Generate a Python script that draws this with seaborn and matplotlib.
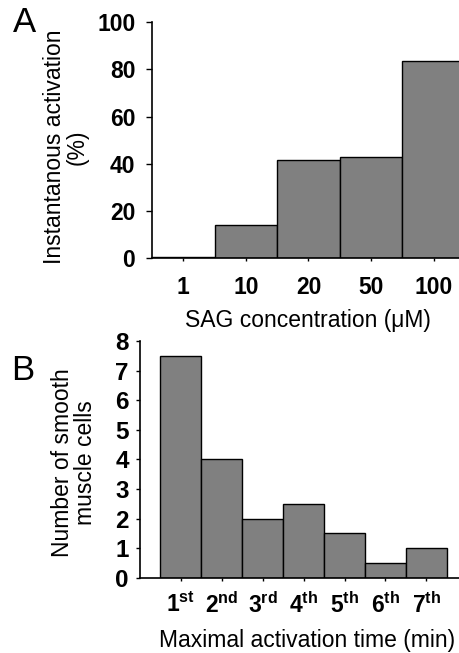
import matplotlib
matplotlib.use("Agg")
import matplotlib.pyplot as plt
import seaborn as sns
import pandas as pd

# ---- data ----
sag_conc = ["1", "10", "20", "50", "100"]
activation = [0.7, 14.2, 41.8, 42.9, 83.6]
a_yticks = [0, 20, 40, 60, 80, 100]

time_ordinals = [("1", "st"), ("2", "nd"), ("3", "rd"), ("4", "th"),
                 ("5", "th"), ("6", "th"), ("7", "th")]
cell_counts = [7.5, 4, 2, 2.5, 1.5, 0.5, 1]
b_yticks = [0, 1, 2, 3, 4, 5, 6, 7, 8]

sns.set_style("ticks")
plt.rcParams['font.family'] = ['Liberation Sans', 'DejaVu Sans']
plt.rcParams['mathtext.fontset'] = 'custom'
plt.rcParams['mathtext.rm'] = 'Liberation Sans'
plt.rcParams['mathtext.bf'] = 'Liberation Sans:bold'
plt.rcParams['mathtext.it'] = 'Liberation Sans:italic'
plt.rcParams['text.color'] = 'black'
plt.rcParams['xtick.color'] = 'black'
plt.rcParams['ytick.color'] = 'black'
plt.rcParams['axes.labelcolor'] = 'black'

W, H = 460, 653
fig = plt.figure(figsize=(W / 100, H / 100), dpi=100)

def px_axes(left, top, width, height):
    return fig.add_axes([left / W, (H - top - height) / H, width / W, height / H])

BAR = "#808080"
TICK_FS = 16.5
LABEL_FS = 16.5

def style_axes(ax):
    for s in ["top", "right"]:
        ax.spines[s].set_visible(False)
    for s in ["left", "bottom"]:
        ax.spines[s].set_color("black")
        ax.spines[s].set_linewidth(1.2)
    ax.set_xlabel("")
    ax.set_ylabel("")

# ---- Panel A ----
axA = px_axes(152, 22, 313, 236.3)
dfA = pd.DataFrame({"conc": sag_conc, "act": activation})
sns.barplot(data=dfA, x="conc", y="act", order=sag_conc, color=BAR, saturation=1,
            edgecolor="black", linewidth=1, width=1.0, ax=axA)
axA.set_xlim(-0.5, 4.5)
axA.set_ylim(0, 100)
axA.set_yticks(a_yticks)
axA.set_yticklabels([str(v) for v in a_yticks], fontsize=TICK_FS, fontweight="bold")
axA.set_xticks(range(len(sag_conc)))
axA.set_xticklabels(sag_conc, fontsize=TICK_FS, fontweight="bold")
axA.tick_params(axis="y", direction="out", length=4, width=1, pad=8)
axA.tick_params(axis="x", direction="out", length=2.5, width=1, pad=10)
style_axes(axA)

# ---- Panel B ----
axB = px_axes(140, 341, 8 * 40.9, 236.7)
dfB = pd.DataFrame({"t": [a + b for a, b in time_ordinals], "n": cell_counts})
sns.barplot(data=dfB, x="t", y="n", color=BAR, saturation=1,
            edgecolor="black", linewidth=1, width=1.0, ax=axB)
axB.set_xlim(-1, 7)
axB.set_ylim(0, 8)
axB.set_yticks(b_yticks)
axB.set_yticklabels([str(v) for v in b_yticks], fontsize=TICK_FS + 1, fontweight="bold")
axB.set_xticks(range(len(time_ordinals)))
axB.set_xticklabels([r"$\mathbf{%s}^{\mathbf{%s}}$" % (a, b) for a, b in time_ordinals],
                    fontsize=TICK_FS)
axB.tick_params(axis="y", direction="out", length=3, width=1, pad=5)
axB.tick_params(axis="x", direction="out", length=2.5, width=1, pad=8)
style_axes(axB)

# ---- labels ----
def ftext(x, y, s, **kw):
    fig.text(x / W, 1 - y / H, s, **kw)

ftext(66, 147, "Instantanous activation\n(%)", rotation=90, ha="center", va="center",
      multialignment="center", fontsize=LABEL_FS, linespacing=1.0)
ftext(308, 320, "SAG concentration (μM)", ha="center", va="center", fontsize=LABEL_FS)
ftext(74, 463, "Number of smooth\nmuscle cells", rotation=90, ha="center", va="center",
      multialignment="center", fontsize=LABEL_FS, linespacing=1.0)
ftext(307, 641, "Maximal activation time (min)", ha="center", va="center", fontsize=LABEL_FS)

ftext(25, 22, "A", ha="center", va="center", fontsize=25)
ftext(23, 370, "B", ha="center", va="center", fontsize=25)

fig.savefig("out.png", dpi=100)
